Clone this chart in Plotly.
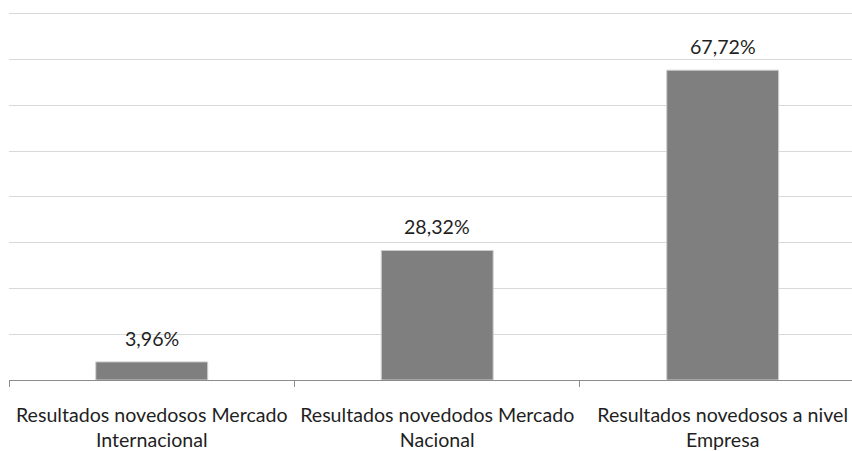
import plotly.graph_objects as go

categories = [
    "Resultados novedosos Mercado<br>Internacional",
    "Resultados novedodos Mercado<br>Nacional",
    "Resultados novedosos a nivel<br>Empresa",
]
values = [3.96, 28.32, 67.72]
value_labels = ["3,96%", "28,32%", "67,72%"]

FONT = "Lato, 'Open Sans', sans-serif"
TEXT = "#1f1f1f"
SIZE = 19.6

fig = go.Figure()
fig.add_trace(go.Bar(
    x=categories,
    y=values,
    width=0.392,
    marker=dict(color="#7f7f7f", line=dict(color="#cfcfcf", width=1)),
    hoverinfo="skip",
))

for cat, v, lab in zip(categories, values, value_labels):
    fig.add_annotation(
        x=cat, y=v, text=lab, showarrow=False,
        yanchor="bottom", yshift=10,
        font=dict(family=FONT, size=SIZE, color=TEXT),
    )

fig.update_layout(
    width=852, height=451,
    margin=dict(l=9, r=0, t=10, b=71),
    paper_bgcolor="white", plot_bgcolor="white",
    showlegend=False,
    font=dict(family=FONT, size=SIZE, color=TEXT),
)
fig.update_xaxes(
    type="category",
    range=[-0.5, 2.453],
    automargin=False,
    tickson="boundaries",
    ticks="outside", ticklen=6, tickcolor="#8c8c8c", tickwidth=1,
    showline=True, linecolor="#8c8c8c", linewidth=1,
    showgrid=False,
    ticklabelstandoff=17,
    tickfont=dict(family=FONT, size=SIZE, color=TEXT),
)
fig.update_yaxes(
    range=[0, 80.87], dtick=10, automargin=False,
    showgrid=True, gridcolor="#d9d9d9", gridwidth=1,
    showticklabels=False, zeroline=False, showline=False,
)

fig.write_html("out.html")
